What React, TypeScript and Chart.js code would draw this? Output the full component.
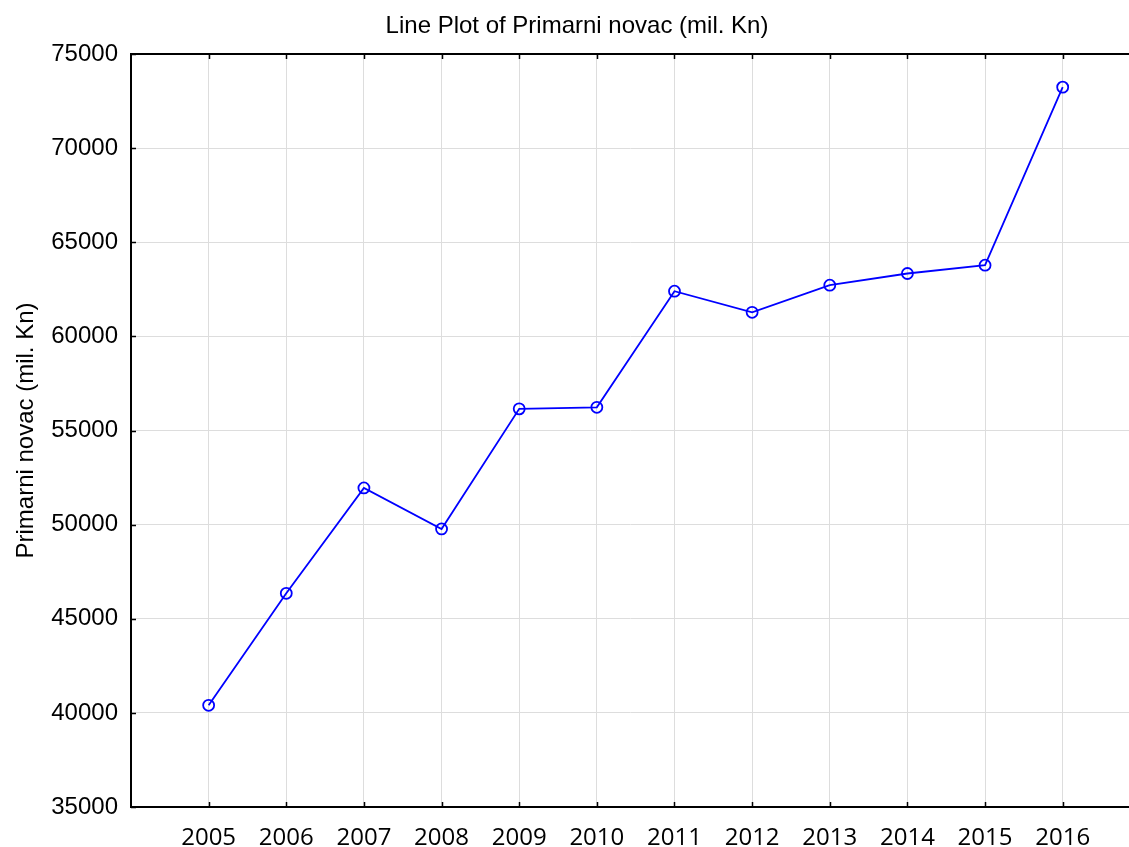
import React, { useEffect, useRef } from "react";
import { Chart, registerables } from "chart.js";

Chart.register(...registerables);

const years = [2005, 2006, 2007, 2008, 2009, 2010, 2011, 2012, 2013, 2014, 2015, 2016];
const values = [40400, 46350, 51950, 49770, 56150, 56230, 62400, 61280, 62720, 63340, 63780, 73240];
const yTicks = [35000, 40000, 45000, 50000, 55000, 60000, 65000, 70000, 75000];
const titleText = "Line Plot of Primarni novac (mil. Kn)";
const yLabel = "Primarni novac (mil. Kn)";

const W = 1129;
const H = 847;

const framePlugin = {
  id: "frame",
  afterDraw(chart: any) {
    const { ctx, chartArea } = chart;
    const xs = chart.scales.x;
    const ys = chart.scales.y;
    ctx.save();
    ctx.strokeStyle = "#000";
    ctx.lineWidth = 2;
    ctx.beginPath();
    ctx.moveTo(chartArea.left, chartArea.top);
    ctx.lineTo(W, chartArea.top);
    ctx.stroke();
    ctx.lineWidth = 1.5;
    ctx.beginPath();
    for (const yr of years) {
      const px = Math.round(xs.getPixelForValue(yr)) + 0.5;
      ctx.moveTo(px, chartArea.top);
      ctx.lineTo(px, chartArea.top + 5);
      ctx.moveTo(px, chartArea.bottom);
      ctx.lineTo(px, chartArea.bottom - 5);
    }
    for (const v of yTicks) {
      const py = Math.round(ys.getPixelForValue(v)) + 0.5;
      ctx.moveTo(chartArea.left, py);
      ctx.lineTo(chartArea.left + 5, py);
    }
    ctx.stroke();
    // title
    ctx.fillStyle = "#000";
    ctx.font = "24px 'Liberation Sans', Arial, sans-serif";
    ctx.textAlign = "center";
    ctx.textBaseline = "alphabetic";
    ctx.fillText(titleText, 577, 33);
    // y label
    ctx.translate(33, (chartArea.top + chartArea.bottom) / 2);
    ctx.rotate(-Math.PI / 2);
    ctx.fillText(yLabel, 0, 0);
    ctx.restore();
  },
};

export default function App() {
  const ref = useRef<HTMLCanvasElement>(null);
  useEffect(() => {
    if (!ref.current) return;
    const chart = new Chart(ref.current, {
      type: "line",
      data: {
        datasets: [
          {
            data: years.map((y, i) => ({ x: y, y: values[i] })),
            borderColor: "#0000ff",
            borderWidth: 1.8,
            pointRadius: 5.5,
            pointBorderWidth: 1.8,
            pointBorderColor: "#0000ff",
            pointBackgroundColor: "rgba(0,0,0,0)",
            fill: false,
            tension: 0,
          },
        ],
      },
      options: {
        responsive: false,
        animation: false,
        layout: { autoPadding: false, padding: { top: 54, left: 0, right: 0, bottom: 0 } },
        plugins: { legend: { display: false }, title: { display: false }, tooltip: { enabled: false } },
        scales: {
          x: {
            type: "linear",
            min: 2004,
            max: 2016.854,
            afterBuildTicks: (s: any) => {
              s.ticks = years.map((v) => ({ value: v }));
            },
            afterFit: (s: any) => {
              s.height = 40;
              s.paddingLeft = 0;
              s.paddingRight = 0;
            },
            grid: { color: "#dddddd", lineWidth: 1, drawTicks: false },
            border: { color: "#000", width: 2 },
            ticks: {
              color: "#000",
              padding: 17,
              autoSkip: false,
              maxRotation: 0,
              font: { family: "'Open Sans', sans-serif", size: 24 },
              callback: (v: any) => String(v),
            },
          },
          y: {
            min: 35000,
            max: 75000,
            afterBuildTicks: (s: any) => {
              s.ticks = yTicks.map((v) => ({ value: v }));
            },
            afterFit: (s: any) => {
              s.width = 131;
              s.paddingTop = 0;
              s.paddingBottom = 0;
            },
            grid: { color: "#dddddd", lineWidth: 1, drawTicks: false },
            border: { color: "#000", width: 2 },
            ticks: {
              color: "#000",
              padding: 13,
              font: { family: "'Liberation Sans', Arial, sans-serif", size: 24 },
              callback: (v: any) => String(v),
            },
          },
        },
      },
      plugins: [framePlugin],
    });
    return () => chart.destroy();
  }, []);
  return (
    <div style={{ position: "fixed", left: 0, top: 0, width: W, height: H, background: "#fff" }}>
      <canvas ref={ref} width={W} height={H} style={{ width: W, height: H, display: "block" }} />
    </div>
  );
}
